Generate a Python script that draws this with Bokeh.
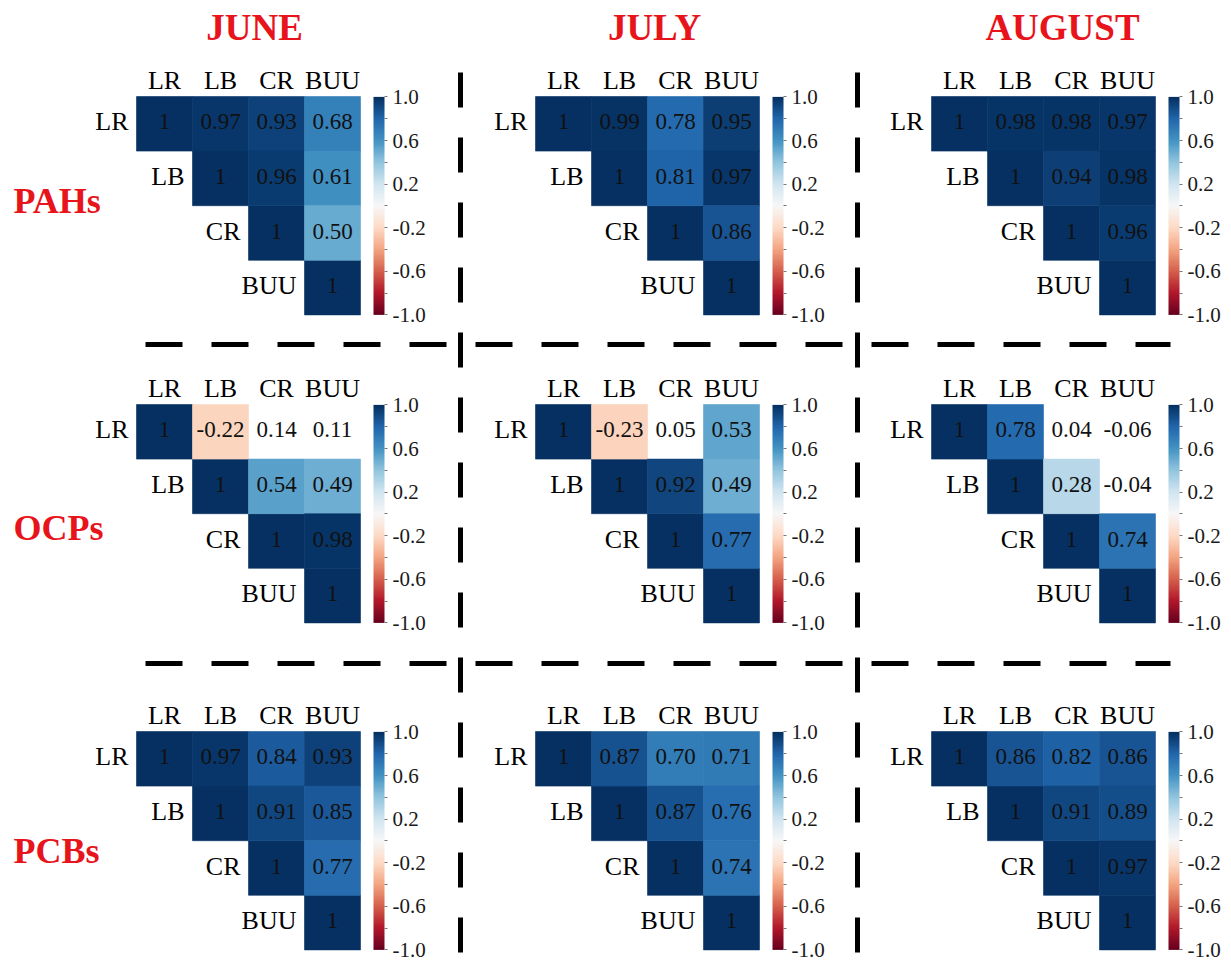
import numpy as np
from bokeh.plotting import figure
from bokeh.models import (ColumnDataSource, LinearColorMapper, ColorBar, FixedTicker,
                          PrintfTickFormatter, Range1d)
from bokeh.transform import transform
from bokeh.core.properties import value
from bokeh.embed import file_html
from bokeh.resources import INLINE

# ---------------- data ----------------
stations = ["LR", "LB", "CR", "BUU"]
months = ["JUNE", "JULY", "AUGUST"]
groups = ["PAHs", "OCPs", "PCBs"]

# upper-triangle pairs, in order: LR-LB, LR-CR, LR-BUU, LB-CR, LB-BUU, CR-BUU
pairs = [(0, 1), (0, 2), (0, 3), (1, 2), (1, 3), (2, 3)]

pahs_june = [0.97, 0.93, 0.68, 0.96, 0.61, 0.50]
pahs_july = [0.99, 0.78, 0.95, 0.81, 0.97, 0.86]
pahs_august = [0.98, 0.98, 0.97, 0.94, 0.98, 0.96]

ocps_june = [-0.22, 0.14, 0.11, 0.54, 0.49, 0.98]
ocps_july = [-0.23, 0.05, 0.53, 0.92, 0.49, 0.77]
ocps_august = [0.78, 0.04, -0.06, 0.28, -0.04, 0.74]

pcbs_june = [0.97, 0.84, 0.93, 0.91, 0.85, 0.77]
pcbs_july = [0.87, 0.70, 0.71, 0.87, 0.76, 0.74]
pcbs_august = [0.86, 0.82, 0.86, 0.91, 0.89, 0.97]

# whether the coefficient is significant (shaded) or left blank
ocps_june_sig = [True, False, False, True, True, True]
ocps_july_sig = [True, False, True, True, True, True]
ocps_august_sig = [True, False, False, True, False, True]
all_sig = [True] * 6

panels = {
    ("PAHs", "JUNE"): (pahs_june, all_sig),
    ("PAHs", "JULY"): (pahs_july, all_sig),
    ("PAHs", "AUGUST"): (pahs_august, all_sig),
    ("OCPs", "JUNE"): (ocps_june, ocps_june_sig),
    ("OCPs", "JULY"): (ocps_july, ocps_july_sig),
    ("OCPs", "AUGUST"): (ocps_august, ocps_august_sig),
    ("PCBs", "JUNE"): (pcbs_june, all_sig),
    ("PCBs", "JULY"): (pcbs_july, all_sig),
    ("PCBs", "AUGUST"): (pcbs_august, all_sig),
}

cbar_ticks = [-1.0, -0.6, -0.2, 0.2, 0.6, 1.0]
cbar_minor = [-0.8, -0.4, 0.0, 0.4, 0.8]

# ---------------- layout ----------------
W, H = 1231, 962
CW, CH = 56, 54.6
col_x0 = [136, 535, 931]          # left edge of each month's matrix
row_y0 = [96, 404, 731]           # top edge of each group's matrix
title_x = [254, 654, 1062]
title_y = 27
group_y = [200, 527, 850]
SERIF = "Liberation Serif"
RED = "#e8141b"

# RdBu diverging palette, interpolated to 256 steps (red = -1, blue = +1)
rdbu = ["#67001f", "#b2182b", "#d6604d", "#f4a582", "#fddbc7", "#f7f7f7",
        "#d1e5f0", "#92c5de", "#4393c3", "#2166ac", "#053061"]


def _rgb(h):
    return np.array([int(h[i:i + 2], 16) for i in (1, 3, 5)], dtype=float)


anchors = np.array([_rgb(c) for c in rdbu])
pos = np.linspace(0, 1, len(rdbu))
t = np.linspace(0, 1, 256)
palette = ["#%02x%02x%02x" % tuple(int(round(np.interp(v, pos, anchors[:, k]))) for k in range(3))
           for v in t]
mapper = LinearColorMapper(palette=palette, low=-1, high=1)

p = figure(width=W, height=H, x_range=Range1d(0, W), y_range=Range1d(H, 0),
           x_axis_type=None, y_axis_type=None, toolbar_location=None,
           output_backend="svg", min_border=0)
p.outline_line_color = None
p.background_fill_color = "white"
p.grid.visible = False

cell = dict(x=[], y=[], r=[])
lab = dict(x=[], y=[], t=[])
col_lab = dict(x=[], y=[], t=[])
row_lab = dict(x=[], y=[], t=[])

for gi, g in enumerate(groups):
    for mi, m in enumerate(months):
        vals, sig = panels[(g, m)]
        x0, y0 = col_x0[mi], row_y0[gi]
        # diagonal
        for k in range(len(stations)):
            cx = x0 + (k + 0.5) * CW
            cy = y0 + (k + 0.5) * CH
            cell["x"].append(cx); cell["y"].append(cy); cell["r"].append(1.0)
            lab["x"].append(cx); lab["y"].append(cy - 2); lab["t"].append("1")
            col_lab["x"].append(cx); col_lab["y"].append(y0 - 16); col_lab["t"].append(stations[k])
            row_lab["x"].append(x0 + k * CW - 8); row_lab["y"].append(cy - 2); row_lab["t"].append(stations[k])
        # off-diagonal
        for (i, j), v, s in zip(pairs, vals, sig):
            cx = x0 + (j + 0.5) * CW
            cy = y0 + (i + 0.5) * CH
            if s:
                cell["x"].append(cx); cell["y"].append(cy); cell["r"].append(v)
            lab["x"].append(cx); lab["y"].append(cy - 2); lab["t"].append(f"{v:.2f}")

        cb = ColorBar(color_mapper=mapper, orientation="vertical",
                      location=(x0 + 4 * CW + 13, H - y0 - 4 * CH),
                      width=11, height=int(4 * CH), padding=0, margin=0,
                      ticker=FixedTicker(ticks=cbar_ticks, minor_ticks=cbar_minor),
                      formatter=PrintfTickFormatter(format="%.1f"),
                      major_label_text_font=SERIF, major_label_text_font_size="21px",
                      major_label_text_color="#1a1a1a",
                      label_standoff=5, major_tick_in=0, major_tick_out=3,
                      minor_tick_in=0, minor_tick_out=3,
                      major_tick_line_color="#777777", minor_tick_line_color="#777777",
                      bar_line_color=None, border_line_color=None,
                      background_fill_alpha=0)
        p.add_layout(cb)

src = ColumnDataSource(cell)
p.rect("x", "y", width=CW, height=CH, source=src,
       fill_color=transform("r", mapper), line_color=transform("r", mapper), line_width=0.6)

p.text("x", "y", text="t", source=ColumnDataSource(lab), text_align="center",
       text_baseline="middle", text_font=value(SERIF), text_font_size="23px",
       text_color="#111111")
p.text("x", "y", text="t", source=ColumnDataSource(col_lab), text_align="center",
       text_baseline="middle", text_font=value(SERIF), text_font_size="26px",
       text_color="black")
p.text("x", "y", text="t", source=ColumnDataSource(row_lab), text_align="right",
       text_baseline="middle", text_font=value(SERIF), text_font_size="26px",
       text_color="black")

# month titles and group labels
p.text(x=title_x, y=[title_y] * 3, text=months, text_align="center", text_baseline="middle",
       text_font=value(SERIF), text_font_size="37px", text_font_style="bold", text_color=RED)
p.text(x=[13] * 3, y=group_y, text=groups, text_align="left", text_baseline="middle",
       text_font=value(SERIF), text_font_size="36px", text_font_style="bold", text_color=RED)

# dashed separators between panels
for yy in [344, 663]:
    p.line([145, 1170], [yy, yy], line_color="black", line_width=5,
           line_dash="37 29", line_cap="butt")
for xx in [460, 857]:
    p.line([xx, xx], [72, H], line_color="black", line_width=5,
           line_dash="35 30", line_cap="butt")

open("out.html", "w").write(file_html(p, INLINE))
